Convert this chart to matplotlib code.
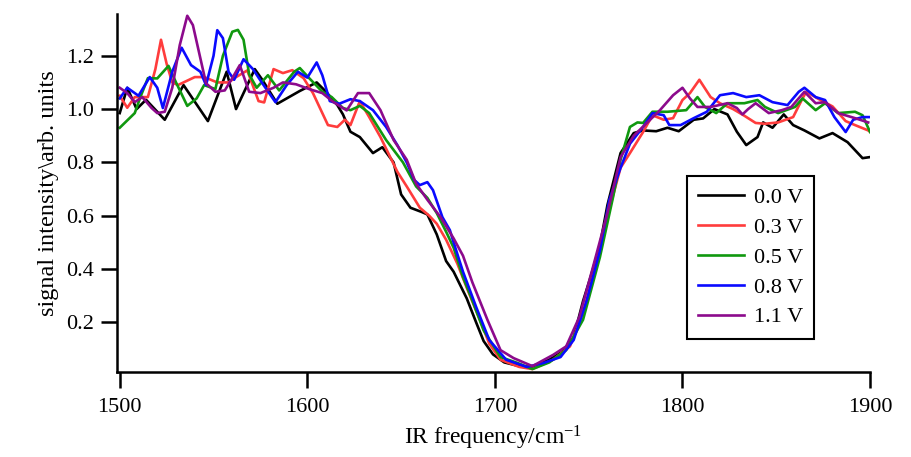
import matplotlib
matplotlib.use("Agg")
import matplotlib.pyplot as plt

plt.rcParams['font.family'] = ['Liberation Serif', 'DejaVu Serif']
plt.rcParams['mathtext.fontset'] = 'custom'
plt.rcParams['mathtext.rm'] = 'Liberation Serif'
plt.rcParams['mathtext.default'] = 'regular'
plt.rcParams['font.size'] = 16

labels = ["0.0 V", "0.3 V", "0.5 V", "0.8 V", "1.1 V"]
colors = ["black", "#ff3c3c", "#10980f", "#0a0aff", "#8c0a8c"]

x_00 = [1500, 1504, 1509, 1514, 1524, 1534, 1547, 1557, 1562, 1572, 1576, 1584, 1596, 1605, 1610,
        1616, 1619, 1623, 1628, 1635, 1640, 1646, 1650, 1655, 1661, 1664, 1669, 1674, 1678, 1685,
        1690, 1694, 1699, 1705, 1713, 1720, 1729, 1736, 1742, 1747, 1751, 1756, 1760, 1767, 1774,
        1779, 1786, 1792, 1798, 1806, 1811, 1817, 1824, 1829, 1834, 1840, 1843, 1848, 1854, 1859,
        1865, 1873, 1880, 1888, 1896, 1900]
y_00 = [0.985, 1.08, 1.0, 1.035, 0.96, 1.09, 0.955, 1.14, 1.0, 1.15, 1.11, 1.02, 1.068, 1.10, 1.065,
        1.015, 0.98, 0.915, 0.895, 0.835, 0.857, 0.80, 0.68, 0.63, 0.614, 0.605, 0.53, 0.43, 0.39, 0.29,
        0.20, 0.13, 0.08, 0.05, 0.036, 0.033, 0.06, 0.09, 0.145, 0.28, 0.37, 0.49, 0.64, 0.835, 0.91,
        0.92, 0.917, 0.93, 0.917, 0.96, 0.965, 1.0, 0.98, 0.915, 0.865, 0.895, 0.95, 0.93, 0.98, 0.94,
        0.92, 0.89, 0.91, 0.876, 0.816, 0.82]

x_03 = [1500, 1504, 1508, 1515, 1519, 1522, 1525, 1528, 1531, 1540, 1545, 1552, 1558, 1562, 1568,
        1574, 1577, 1582, 1587, 1592, 1598, 1603, 1607, 1611, 1616, 1620, 1623, 1628, 1633, 1639,
        1648, 1653, 1660, 1665, 1669, 1674, 1680, 1685, 1692, 1697, 1703, 1713, 1720, 1731, 1740,
        1747, 1756, 1762, 1767, 1772, 1779, 1784, 1790, 1795, 1800, 1804, 1809, 1815, 1820, 1827,
        1833, 1839, 1844, 1851, 1859, 1864, 1866, 1872, 1880, 1887, 1892, 1899, 1900]
y_03 = [1.05, 1.005, 1.045, 1.045, 1.15, 1.26, 1.17, 1.10, 1.09, 1.12, 1.12, 1.10, 1.10, 1.12, 1.145,
        1.03, 1.025, 1.15, 1.135, 1.146, 1.116, 1.06, 1.0, 0.94, 0.933, 0.96, 0.94, 1.03, 0.97, 0.895,
        0.765, 0.71, 0.63, 0.60, 0.57, 0.51, 0.42, 0.33, 0.21, 0.12, 0.06, 0.033, 0.025, 0.06, 0.11,
        0.235, 0.47, 0.65, 0.78, 0.835, 0.914, 0.977, 0.96, 0.966, 1.034, 1.06, 1.11, 1.045, 1.022, 1.0,
        0.975, 0.948, 0.945, 0.95, 0.97, 1.04, 1.065, 1.04, 1.01, 0.955, 0.94, 0.92, 0.915]

x_05 = [1500, 1508, 1511, 1515, 1520, 1526, 1530, 1536, 1541, 1545, 1551, 1555, 1560, 1563, 1566,
        1569, 1573, 1579, 1585, 1593, 1596, 1601, 1608, 1613, 1619, 1623, 1628, 1633, 1642, 1651,
        1658, 1664, 1669, 1674, 1678, 1683, 1687, 1694, 1703, 1712, 1720, 1729, 1738, 1747, 1756,
        1763, 1767, 1772, 1776, 1779, 1784, 1792, 1802, 1808, 1812, 1818, 1824, 1833, 1840, 1844,
        1851, 1860, 1864, 1871, 1876, 1883, 1892, 1896, 1900]
y_05 = [0.93, 0.985, 1.045, 1.116, 1.115, 1.162, 1.10, 1.012, 1.04, 1.09, 1.075, 1.2, 1.29, 1.297, 1.26,
        1.13, 1.08, 1.127, 1.07, 1.14, 1.154, 1.116, 1.065, 1.045, 1.004, 0.996, 1.012, 0.985, 0.884, 0.80,
        0.71, 0.667, 0.61, 0.54, 0.48, 0.37, 0.30, 0.17, 0.07, 0.048, 0.025, 0.05, 0.096, 0.21, 0.445,
        0.67, 0.81, 0.933, 0.95, 0.948, 0.99, 0.99, 0.996, 1.045, 1.008, 0.985, 1.022, 1.022, 1.034, 1.008,
        0.985, 1.008, 1.04, 0.996, 1.022, 0.985, 0.99, 0.977, 0.914]

x_08 = [1500, 1504, 1510, 1516, 1520, 1523, 1528, 1533, 1538, 1543, 1546, 1550, 1552, 1555, 1558,
        1561, 1566, 1571, 1576, 1583, 1589, 1595, 1600, 1605, 1608, 1612, 1617, 1623, 1628, 1635,
        1642, 1648, 1653, 1657, 1660, 1664, 1667, 1672, 1676, 1678, 1683, 1690, 1697, 1706, 1717,
        1726, 1735, 1742, 1749, 1756, 1761, 1767, 1772, 1779, 1784, 1790, 1793, 1799, 1806, 1813,
        1820, 1827, 1834, 1841, 1848, 1856, 1862, 1865, 1871, 1876, 1881, 1887, 1891, 1896, 1900]
y_08 = [1.04, 1.08, 1.05, 1.12, 1.08, 1.004, 1.14, 1.23, 1.165, 1.14, 1.09, 1.2, 1.296, 1.266, 1.14,
        1.11, 1.187, 1.15, 1.097, 1.026, 1.09, 1.14, 1.118, 1.175, 1.127, 1.03, 1.02, 1.037, 1.03, 0.996,
        0.933, 0.865, 0.80, 0.734, 0.715, 0.726, 0.696, 0.595, 0.546, 0.50, 0.39, 0.258, 0.134, 0.06, 0.033,
        0.048, 0.07, 0.134, 0.284, 0.47, 0.66, 0.78, 0.87, 0.933, 0.985, 0.977, 0.94, 0.94, 0.966, 0.99,
        1.052, 1.06, 1.045, 1.052, 1.026, 1.015, 1.065, 1.08, 1.045, 1.034, 0.97, 0.914, 0.96, 0.97, 0.97]

x_11 = [1500, 1504, 1508, 1512, 1517, 1520, 1524, 1528, 1532, 1536, 1539, 1543, 1546, 1551, 1556,
        1560, 1564, 1569, 1575, 1582, 1587, 1594, 1601, 1608, 1614, 1621, 1627, 1633, 1639, 1646,
        1653, 1658, 1664, 1671, 1678, 1683, 1688, 1696, 1703, 1710, 1720, 1731, 1738, 1745, 1752,
        1760, 1767, 1774, 1781, 1788, 1795, 1800, 1804, 1808, 1815, 1824, 1829, 1832, 1835, 1839,
        1846, 1853, 1858, 1865, 1871, 1876, 1883, 1892, 1899]
y_11 = [1.08, 1.06, 1.026, 1.045, 1.004, 0.985, 0.99, 1.08, 1.24, 1.35, 1.315, 1.19, 1.097, 1.065, 1.07,
        1.116, 1.165, 1.065, 1.06, 1.08, 1.10, 1.093, 1.075, 1.06, 1.026, 0.995, 1.06, 1.06, 0.996, 0.884,
        0.81, 0.72, 0.66, 0.595, 0.515, 0.45, 0.35, 0.21, 0.096, 0.066, 0.036, 0.078, 0.11, 0.22, 0.40,
        0.61, 0.82, 0.90, 0.948, 0.996, 1.052, 1.08, 1.04, 1.008, 1.008, 1.022, 1.004, 0.98, 1.0, 1.022,
        0.985, 0.996, 1.008, 1.065, 1.022, 1.026, 0.985, 0.966, 0.95]

series_x = [x_00, x_03, x_05, x_08, x_11]
series_y = [y_00, y_03, y_05, y_08, y_11]

fig = plt.figure(figsize=(9.12, 4.57), dpi=100)
ax = fig.add_axes([0.128, 0.186, 0.826, 0.783])

for xs, ys, c, lab in zip(series_x, series_y, colors, labels):
    ax.plot(xs, ys, color=c, linewidth=1.9, label=lab, solid_joinstyle='round')

ax.set_xlim(1498.4, 1900)
ax.set_ylim(0.014, 1.356)
ax.set_xticks([1500, 1600, 1700, 1800, 1900])
ax.set_yticks([0.2, 0.4, 0.6, 0.8, 1.0, 1.2])
ax.set_yticklabels(["0.2", "0.4", "0.6", "0.8", "1.0", "1.2"])
ax.spines['top'].set_visible(False)
ax.spines['right'].set_visible(False)
ax.spines['left'].set_linewidth(1.8)
ax.spines['bottom'].set_linewidth(1.8)
ax.tick_params(direction='out', length=11.5, width=1.8, labelsize=16)
ax.tick_params(axis='x', pad=7)
ax.tick_params(axis='y', pad=5)

ax.set_xlabel("IR frequency/cm$^{-1}$", labelpad=5, fontsize=17)
ax.set_ylabel("signal intensity\\arb. units", labelpad=5, fontsize=17.5)

leg = ax.legend(loc='upper left', bbox_to_anchor=(0.757, 0.547), fancybox=False,
                edgecolor='black', framealpha=1, handlelength=2.05, labelspacing=0.42,
                borderpad=0.5, handletextpad=0.45, fontsize=16, borderaxespad=0)
leg.get_frame().set_linewidth(1.5)

plt.savefig("out.png", dpi=100)
plt.close()
